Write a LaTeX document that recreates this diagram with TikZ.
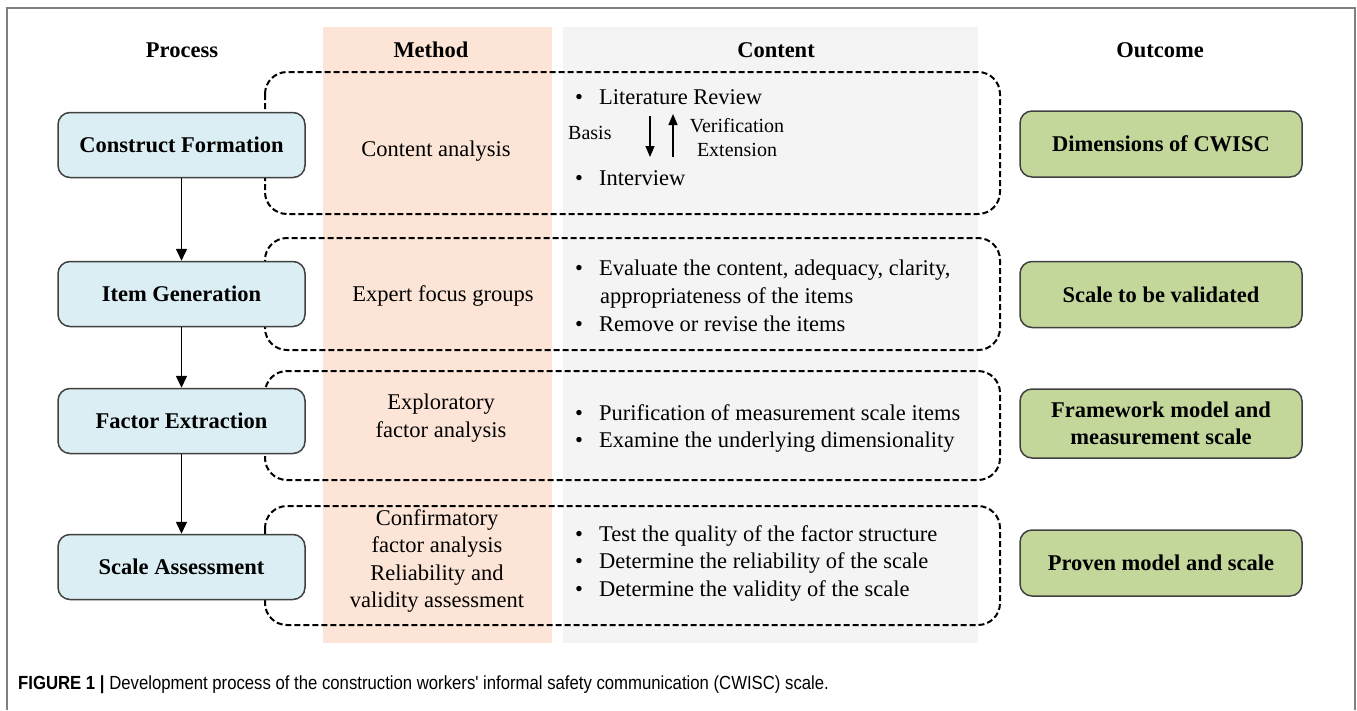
\documentclass[tikz,border=0pt]{standalone}
\usepackage{fontspec}
\setmainfont{Liberation Serif}
\newfontfamily\capfont[FakeStretch=0.88]{Liberation Sans}
\usetikzlibrary{arrows.meta}
\definecolor{peach}{HTML}{FCE5D6}
\definecolor{lgrey}{HTML}{F4F4F4}
\definecolor{pblue}{HTML}{DAEEF3}
\definecolor{ogreen}{HTML}{C4D79B}
\definecolor{bord}{HTML}{404040}
\definecolor{frame}{HTML}{808080}
\tikzset{
  mainfs/.style={font=\fontsize{22.5}{27.5}\selectfont},
  smallfs/.style={font=\fontsize{20}{23}\selectfont},
  procbox/.style={draw=bord, line width=1.5pt, fill=pblue, rounded corners=12pt,
    minimum width=247pt, minimum height=65pt, inner sep=0pt, align=center,
    font=\fontsize{22.5}{27.5}\selectfont\bfseries},
  outbox/.style={draw=bord, line width=1.5pt, fill=ogreen, rounded corners=12pt,
    minimum width=282pt, minimum height=66pt, inner sep=0pt, align=center,
    font=\fontsize{22.5}{27.5}\selectfont\bfseries},
  dashbox/.style={draw=black, line width=2pt, dash pattern=on 6pt off 3pt, rounded corners=22pt},
  header/.style={font=\fontsize{22.5}{27.5}\selectfont\bfseries, anchor=center},
  methtext/.style={mainfs, align=center, anchor=center, inner sep=0pt},
  bul/.style={mainfs, anchor=base west, inner sep=0pt},
  flowarrow/.style={line width=1.6pt, -{Triangle[width=11pt,length=12pt]}},
  smallarrow/.style={line width=1.2pt, -{Triangle[width=9pt,length=11pt]}},
}
\begin{document}
\begin{tikzpicture}[x=1pt,y=-1pt]
\useasboundingbox (0,0) rectangle (1357,710);
% frame
\draw[frame, line width=1.5pt] (7,710) -- (7,8) -- (1355,8) -- (1355,710);
% column bands
\fill[peach] (323,27) rectangle (552,643);
\fill[lgrey] (563,27) rectangle (978,643);
% headers
\node[header] (hproc) at (182,50) {Process};
\node[header] (hmeth) at (431,50) {Method};
\node[header] (hcont) at (776,50) {Content};
\node[header] (hout) at (1160,50) {Outcome};
% dashed groups
\draw[dashbox] (265,72) rectangle (1000,214);
\draw[dashbox] (265,238) rectangle (1000,350);
\draw[dashbox] (265,371) rectangle (1000,480);
\draw[dashbox] (265,506) rectangle (1000,625);
% process boxes
\node[procbox] (p1) at (181.5,145) {Construct Formation};
\node[procbox] (p2) at (181.5,294) {Item Generation};
\node[procbox] (p3) at (181.5,421) {Factor Extraction};
\node[procbox] (p4) at (181.5,567) {Scale Assessment};
\draw[flowarrow] (p1) -- (p2);
\draw[flowarrow] (p2) -- (p3);
\draw[flowarrow] (p3) -- (p4);
% method texts
\node[methtext] (m1) at (436,151) {Content analysis};
\node[methtext] (m2) at (443,296) {Expert focus groups};
\node[methtext] (m3) at (441,418) {Exploratory\\factor analysis};
\node[methtext] (m4) at (437,561) {Confirmatory\\factor analysis\\Reliability and\\validity assessment};
% content row 1
\node[bul] (c1a) at (575,104) {\textbullet\hspace{16pt}Literature Review};
\node[bul] (c1b) at (575,185) {\textbullet\hspace{16pt}Interview};
\node[smallfs, anchor=base west, inner sep=0pt] (basis) at (568,139) {Basis};
\node[smallfs, anchor=base, inner sep=0pt] (verif) at (737,132) {Verification};
\node[smallfs, anchor=base, inner sep=0pt] (exten) at (737,156) {Extension};
\coordinate (d1) at (650,116);
\coordinate (d2) at (650,157);
\coordinate (u1) at (673,157);
\coordinate (u2) at (673,114);
\draw[smallarrow] (d1) -- (d2);
\draw[smallarrow] (u1) -- (u2);
% content row 2
\node[bul] (c2a) at (575,275) {\textbullet\hspace{16pt}Evaluate the content, adequacy, clarity,};
\node[bul] (c2b) at (600,303) {appropriateness of the items};
\node[bul] (c2c) at (575,331) {\textbullet\hspace{16pt}Remove or revise the items};
% content row 3
\node[bul] (c3a) at (575,420) {\textbullet\hspace{16pt}Purification of measurement scale items};
\node[bul] (c3b) at (575,447) {\textbullet\hspace{16pt}Examine the underlying dimensionality};
% content row 4
\node[bul] (c4a) at (575,541) {\textbullet\hspace{16pt}Test the quality of the factor structure};
\node[bul] (c4b) at (575,568) {\textbullet\hspace{16pt}Determine the reliability of the scale};
\node[bul] (c4c) at (575,596) {\textbullet\hspace{16pt}Determine the validity of the scale};
% outcome boxes
\node[outbox] (o1) at (1161,144) {Dimensions of CWISC};
\node[outbox] (o2) at (1161,294.5) {Scale to be validated};
\node[outbox, minimum height=69pt] (o3) at (1161,423.5) {Framework model and\\measurement scale};
\node[outbox] (o4) at (1161,563) {Proven model and scale};
% caption
\node[anchor=base west, inner sep=0pt, font=\capfont\fontsize{19}{22}\selectfont] (cap) at (18,689)
  {\textbf{FIGURE 1 |} Development process of the construction workers' informal safety communication (CWISC) scale.};
\end{tikzpicture}
\end{document}
